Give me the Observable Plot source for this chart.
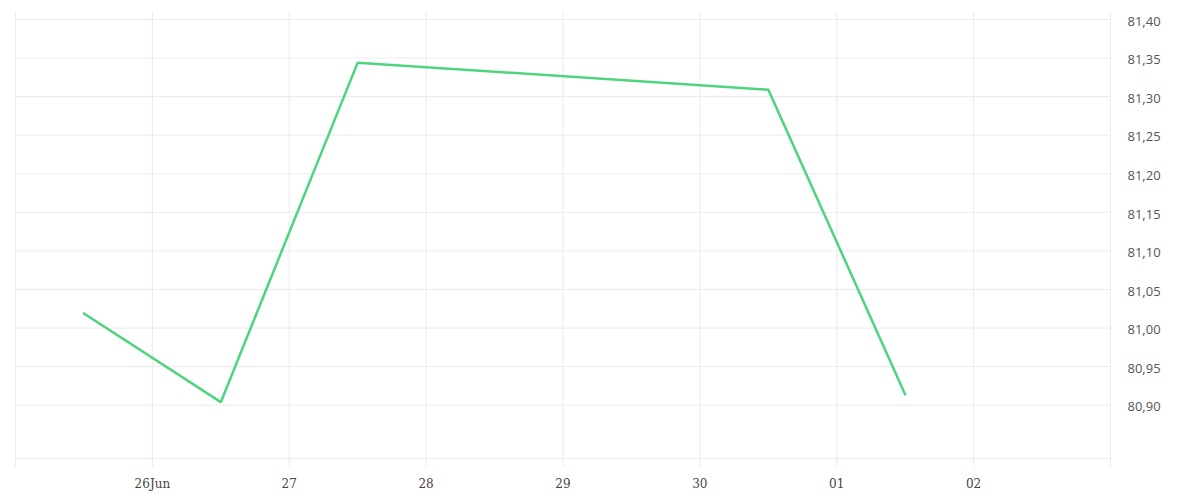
<!DOCTYPE html>
<html>
<head>
<meta charset="utf-8">
<script src="https://cdn.jsdelivr.net/npm/d3@7"></script>
<script src="https://cdn.jsdelivr.net/npm/@observablehq/plot@0.6"></script>
<style>
  html, body { margin: 0; padding: 0; background: #ffffff; }
</style>
</head>
<body>
<div id="chart"></div>
<script>
const dates = ["2023-06-25T12:00Z", "2023-06-26T12:00Z", "2023-06-27T12:00Z", "2023-06-30T12:00Z", "2023-07-01T12:00Z"];
const values = [81.019, 80.904, 81.344, 81.309, 80.914];
const xTickDates = ["2023-06-25", "2023-06-26", "2023-06-27", "2023-06-28", "2023-06-29", "2023-06-30", "2023-07-01", "2023-07-02", "2023-07-03"];
const xTickLabels = ["", "26Jun", "27", "28", "29", "30", "01", "02", ""];
const yTicks = [80.90, 80.95, 81.00, 81.05, 81.10, 81.15, 81.20, 81.25, 81.30, 81.35, 81.40];
const yDomain = [80.831, 81.409];

const data = dates.map((d, i) => ({date: new Date(d), value: values[i]}));
const xTicks = xTickDates.map(d => new Date(d + "T00:00Z"));
const labelOf = new Map(xTicks.map((d, i) => [+d, xTickLabels[i]]));
const grid = "#ebebeb";

const chart = Plot.plot({
  width: 1200,
  height: 500,
  marginLeft: 15,
  marginRight: 90,
  marginTop: 12,
  marginBottom: 42,
  style: {background: "#ffffff", overflow: "visible"},
  x: {type: "utc", domain: [xTicks[0], xTicks[xTicks.length - 1]]},
  y: {domain: yDomain},
  marks: [
    Plot.gridX(xTicks, {stroke: grid, strokeOpacity: 1, strokeWidth: 1}),
    Plot.gridY(yTicks, {stroke: grid, strokeOpacity: 1, strokeWidth: 1}),
    Plot.ruleY([yDomain[0]], {stroke: grid, strokeWidth: 1}),
    Plot.axisX(xTicks, {
      tickSize: 9, tickPadding: 12, stroke: grid, strokeOpacity: 1,
      fill: "#444", fontFamily: "DejaVu Serif", fontSize: 12,
      tickFormat: d => labelOf.get(+d), label: null
    }),
    Plot.axisY(yTicks, {
      anchor: "right", tickSize: 0, tickPadding: 17, textAnchor: "start", dy: 2,
      fill: "#555", fontFamily: "Open Sans", fontSize: 13,
      tickFormat: d => d.toFixed(2).replace(".", ","), label: null
    }),
    Plot.line(data, {x: "date", y: "value", stroke: "#4fd47e", strokeWidth: 2.5, strokeLinejoin: "miter"})
  ]
});
document.getElementById("chart").appendChild(chart);
</script>
</body>
</html>
